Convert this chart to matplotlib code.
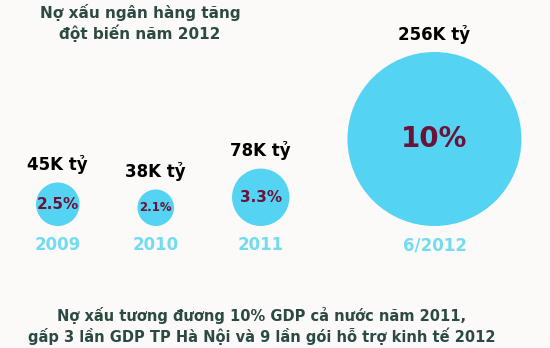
import matplotlib.pyplot as plt
from matplotlib.patches import Circle

# ── Data ──────────────────────────────────────────────────────────────
periods = ["2009", "2010", "2011", "6/2012"]
bad_debt = ["45K tỷ", "38K tỷ", "78K tỷ", "256K tỷ"]   # nợ xấu, nghìn tỷ đồng
pct_gdp = [2.5, 2.1, 3.3, 10.0]                        # % GDP

title = "Nợ xấu ngân hàng tăng\nđột biến năm 2012"
note = ("Nợ xấu tương đương 10% GDP cả nước năm 2011,\n"
        "gấp 3 lần GDP TP Hà Nội và 9 lần gói hỗ trợ kinh tế 2012")

# ── Styles ────────────────────────────────────────────────────────────
bg = "#fcfaf8"
bubble_color = "#55d3f2"
pct_color = "#6b1238"
year_color = "#72dcf0"
text_color = "#2b4a42"
pct_sizes = [11, 8.5, 11, 20]

# ── Figure in pixel coordinates ───────────────────────────────────────
fig = plt.figure(figsize=(5.5, 3.48), dpi=100, facecolor=bg)
ax = fig.add_axes([0, 0, 1, 1])
ax.set_xlim(0, 550)
ax.set_ylim(348, 0)
ax.set_aspect("equal")
ax.axis("off")

# bubbles sit on a common baseline, radius scales with % GDP
scale = 8.7
gap = 58
baseline = 226
left = 36
x = None
prev_r = 0
for i, (p, amt, pct) in enumerate(zip(periods, bad_debt, pct_gdp)):
    r = pct * scale
    x = left + r if x is None else x + prev_r + gap + r
    y = baseline - r
    ax.add_patch(Circle((x, y), r, color=bubble_color, lw=0))
    ax.text(x, y, f"{pct:g}%", ha="center", va="center", color=pct_color,
            fontsize=pct_sizes[i], fontweight="bold")
    ax.text(x, y - r - 18, amt, ha="center", va="center", color="black",
            fontsize=12, fontweight="bold")
    ax.text(x, 245, p, ha="center", va="center", color=year_color,
            fontsize=12, fontweight="bold")
    prev_r = r

ax.text(140, 23, title, ha="center", va="center", color=text_color,
        fontsize=11, fontweight="bold", linespacing=1.2)
ax.text(262, 326, note, ha="center", va="center", color=text_color,
        fontsize=10.5, fontweight="bold", linespacing=1.3)

plt.savefig("out.png", dpi=100, facecolor=bg)
